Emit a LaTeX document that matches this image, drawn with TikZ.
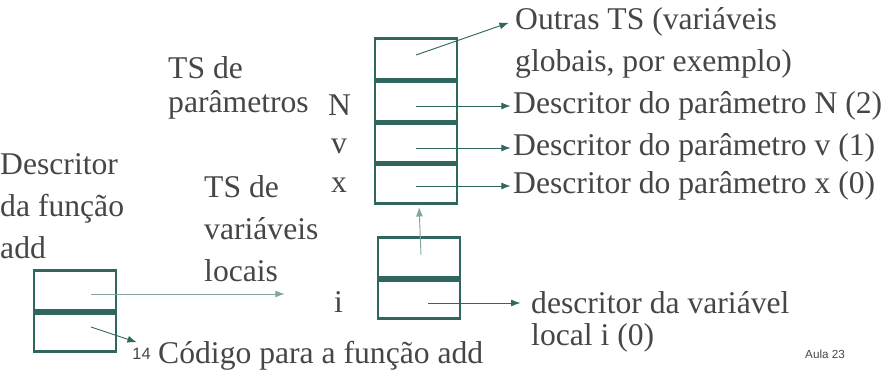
\documentclass[tikz,border=0pt]{standalone}
\usepackage{fontspec}
\setmainfont{Liberation Serif}
\newfontfamily\aulafont{Liberation Sans}
\usetikzlibrary{positioning,calc,arrows.meta}
\definecolor{boxteal}{RGB}{47,102,96}
\definecolor{linkteal}{RGB}{130,165,162}
\definecolor{txtgray}{RGB}{70,70,70}
\tikzset{
  cell/.style    = {draw=boxteal, line width=2.4pt, minimum width=2.46cm,
                    minimum height=1.22cm, inner sep=0pt},
  divider/.style = {draw=boxteal, line width=4pt},
  lbl/.style     = {text=txtgray, font=\fontsize{27}{36}\selectfont,
                    inner sep=0pt, anchor=west, align=left},
  ptr/.style     = {draw=boxteal, line width=0.8pt, shorten >=2pt,
                    -{Latex[length=8pt,width=6pt]}}
}

\begin{document}
\begin{tikzpicture}[x=0.03cm,y=-0.03cm]
    \useasboundingbox (0,0) rectangle (891,372);

    % symbol table of the parameters (with the outer table on top)
    \node[cell] (ts0) at (416,59)  {};
    \node[cell] (ts1) at (416,101) {};
    \node[cell] (ts2) at (416,142) {};
    \node[cell] (ts3) at (416,183) {};
    \draw[divider] (ts0.south west) -- (ts0.south east);
    \draw[divider] (ts1.south west) -- (ts1.south east);
    \draw[divider] (ts2.south west) -- (ts2.south east);

    % symbol table of the local variables
    \node[cell] (loc0) at (419,258) {};
    \node[cell] (loc1) at (419,298) {};
    \draw[divider] (loc0.south west) -- (loc0.south east);

    % function descriptor
    \node[cell] (fn0) at (75,291) {};
    \node[cell] (fn1) at (75,331) {};
    \draw[divider] (fn0.south west) -- (fn0.south east);

    % texts on the right
    \node[lbl] (outras1) at (515,22)  {Outras TS (variáveis};
    \node[lbl] (outras2) at (515,64)  {globais, por exemplo)};
    \node[lbl] (descN)   at (513,106) {Descritor do parâmetro N (2)};
    \node[lbl] (descv)   at (513,148) {Descritor do parâmetro v (1)};
    \node[lbl] (descx)   at (513,186) {Descritor do parâmetro x (0)};
    \node[lbl] (desci1)  at (531,303) {descritor da variável};
    \node[lbl] (desci2)  at (531,338) {local i (0)};

    % texts on the left
    \node[lbl] (tspar1) at (168,68)  {TS de};
    \node[lbl] (tspar2) at (168,105) {parâmetros};
    \node[lbl] (nameN)  at (328,105) {N};
    \node[lbl] (namev)  at (331,146) {v};
    \node[lbl] (namex)  at (331,185) {x};
    \node[lbl] (namei)  at (334,302) {i};
    \node[lbl] (tsloc)  at (204,229) {TS de\\variáveis\\locais};
    \node[lbl] (fndesc) at (0,206)   {Descritor\\da função\\add};
    \node[lbl] (codigo) at (158,356) {Código para a função add};
    \node[text=txtgray, font=\fontsize{14}{16}\aulafont, inner sep=0pt,
          anchor=east] (numpag) at ([xshift=-6pt,yshift=2pt]codigo.west) {14};
    \node[text=txtgray, font=\fontsize{10}{12}\aulafont, inner sep=0pt,
          anchor=west] (aula) at (805,354) {Aula 23};

    % pointers
    \coordinate (outrasTip) at (511,22);
    \coordinate (localsTip) at (287,294);
    \coordinate (codeTip)   at (139,343);
    \draw[ptr] ($(ts0.center)+(0,-4)$) -- (outrasTip);
    \draw[ptr] (ts1.center |- descN.west) -- (descN.west);
    \draw[ptr] (ts2.center |- descv.west) -- (descv.west);
    \draw[ptr] (ts3.center |- descx.west) -- (descx.west);
    \draw[ptr, shorten >=9pt] ([xshift=8]loc1.center |- desci1.west) -- (desci1.west);
    \draw[ptr, draw=linkteal] ($(loc0.center)+(2,-3)$) -- (loc0.center |- ts3.south);
    \draw[ptr, draw=linkteal] ($(fn0.center)+(16,3)$) -- (localsTip);
    \draw[ptr] ($(fn1.center)+(16,-4)$) -- (codeTip);
\end{tikzpicture}
\end{document}
